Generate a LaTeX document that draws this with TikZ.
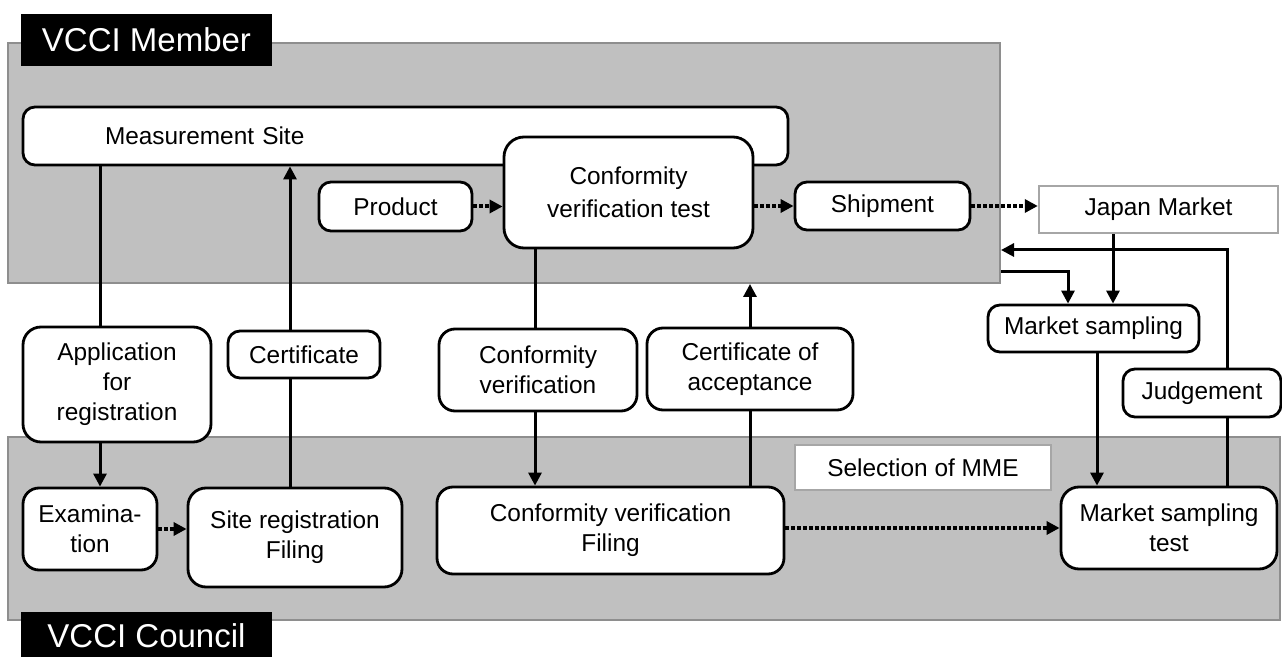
\documentclass[tikz,border=0pt]{standalone}
\usepackage{fontspec}
\setmainfont{Liberation Sans}
\usetikzlibrary{positioning, arrows.meta}

\definecolor{panelgray}{HTML}{C0C0C0}
\definecolor{edgegray}{HTML}{8E8E8E}
\definecolor{framegray}{HTML}{A6A6A6}

\begin{document}
\begin{tikzpicture}[
    x=0.5pt, y=-0.5pt,
    font=\fontsize{12.2pt}{15pt}\selectfont,
    panel/.style={rectangle, draw=edgegray, line width=1pt, fill=panelgray, inner sep=0pt},
    title/.style={rectangle, fill=black, text=white, inner sep=0pt, font=\fontsize{16.5pt}{20pt}\selectfont},
    proc/.style={rectangle, rounded corners=6pt, draw, line width=1.4pt, fill=white, align=center, inner sep=0pt},
    plain/.style={rectangle, draw=framegray, line width=1.2pt, fill=white, inner sep=0pt},
    wire/.style={line width=1.5pt},
    arrow/.style={line width=1.5pt, -{Triangle[length=6.5pt, width=6.5pt]}},
    flow/.style={line width=2pt, dash pattern=on 1.8pt off 1.2pt, -{Triangle[length=6.5pt, width=6.5pt]}}
]

\useasboundingbox (0,0) rectangle (1282,657);

% Areas
\node[panel, minimum width=496pt, minimum height=120pt] (member) at (504,163) {};
\node[panel, minimum width=636pt, minimum height=91.5pt] (council) at (644,528.5) {};
\node[title, minimum width=125.5pt, minimum height=26pt] (membertitle) at (146.5,40) {VCCI Member};
\node[title, minimum width=125.5pt, minimum height=24pt] (counciltitle) at (146.5,636) {VCCI Council};

% Member side
\node[proc, minimum width=382.5pt, minimum height=29pt, text width=300.5pt, inner xsep=41pt, align=left] (meas) at (405.5,136) {Measurement Site};
\node[proc, rounded corners=10pt, minimum width=124.5pt, minimum height=55.5pt, font=\fontsize{12.2pt}{16.5pt}\selectfont] (cvt) at (628.5,192.5) {Conformity\\verification test};
\node[proc, minimum width=76.5pt, minimum height=24.5pt] (product) at (395.5,206.5) {Product};
\node[proc, minimum width=87.5pt, minimum height=24pt] (ship) at (882.5,206) {Shipment};
\node[plain, minimum width=119.5pt, minimum height=23.5pt] (japan) at (1158.5,209.5) {Japan Market};

% Between the areas
\node[proc, rounded corners=9pt, minimum width=94pt, minimum height=57.5pt] (app) at (117,384.5) {Application\\for\\registration};
\node[proc, minimum width=76pt, minimum height=23.5pt] (cert) at (304,354.5) {Certificate};
\node[proc, rounded corners=8pt, minimum width=99pt, minimum height=41pt] (cv) at (538,370) {Conformity\\verification};
\node[proc, rounded corners=8pt, minimum width=103pt, minimum height=41pt] (cacc) at (750,369) {Certificate of\\acceptance};
\node[proc, minimum width=105.5pt, minimum height=23.5pt] (msamp) at (1093.5,328.5) {Market sampling};
\node[proc, minimum width=79pt, minimum height=24pt] (judge) at (1202,393) {Judgement};

% Council side
\node[proc, rounded corners=8pt, minimum width=67pt, minimum height=41pt] (exam) at (90,529) {Examina-\\tion};
\node[proc, rounded corners=9pt, minimum width=107pt, minimum height=49.5pt] (sitefile) at (295,537.5) {Site registration\\Filing};
\node[proc, rounded corners=8pt, minimum width=173.5pt, minimum height=43.5pt] (cvfile) at (610.5,530.5) {Conformity verification\\Filing};
\node[plain, minimum width=128pt, minimum height=22.5pt] (mme) at (923,467.5) {Selection of MME};
\node[proc, rounded corners=9pt, minimum width=108pt, minimum height=41pt] (mstest) at (1169,528) {Market sampling\\test};

% Wire positions
\coordinate (w1) at ([xshift=-8.5pt]app.north);
\coordinate (w2) at ([xshift=-2.5pt]sitefile.north);
\coordinate (w3) at ([xshift=-1.5pt]cv.north);
\coordinate (w6) at ([xshift=-22.75pt]japan.south);
\coordinate (w7) at ([xshift=1.75pt]msamp.south);
\coordinate (w8) at ([xshift=12.5pt]judge.north);

% Registration
\draw[wire] (w1) -- (w1 |- meas.south);
\draw[arrow] (w1 |- app.south) -- (w1 |- exam.north);
\draw[wire] (w2) -- (w2 |- cert.south);
\draw[arrow] (w2 |- cert.north) -- (w2 |- meas.south);

% Conformity verification
\draw[wire] (w3 |- cvt.south) -- (w3);
\draw[arrow] (w3 |- cv.south) -- (w3 |- cvfile.north);
\draw[wire] (cvfile.north -| cacc) -- (cacc.south);
\draw[arrow] (cacc.north) -- (cacc |- member.south);

% Market sampling
\draw[arrow] ([yshift=-54.5pt]member.east) -| ([xshift=-12.75pt]msamp.north);
\draw[arrow] (w6) -- (w6 |- msamp.north);
\draw[arrow] (w7) -- (w7 |- mstest.north);
\draw[wire] (w8 |- mstest.north) -- (w8 |- judge.south);
\draw[arrow] (w8) |- ([yshift=-43.5pt]member.east);

% Dotted flow
\draw[flow] (product.east) -- (cvt.west |- product.east);
\draw[flow] (cvt.east |- ship.west) -- (ship.west);
\draw[flow] (ship.east) -- (japan.west |- ship.east);
\draw[flow] (exam.east) -- (sitefile.west |- exam.east);
\draw[flow] (cvfile.east |- mstest.west) -- (mstest.west);

\end{tikzpicture}
\end{document}
